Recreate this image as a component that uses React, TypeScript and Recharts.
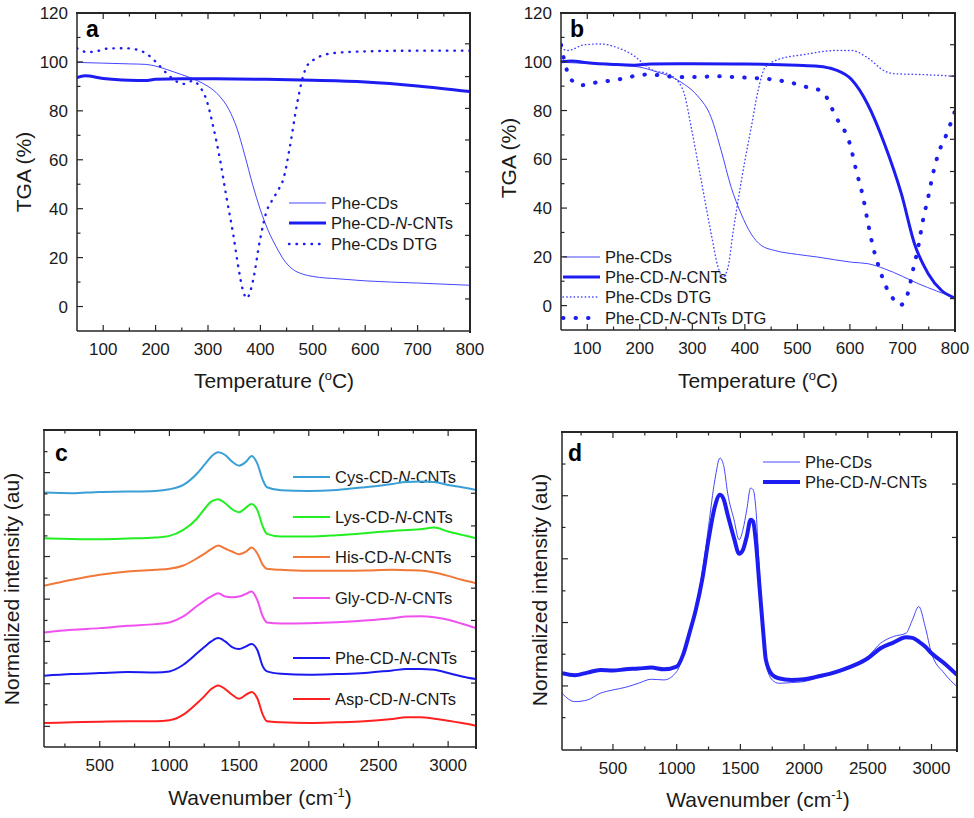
import React from 'react';
import { LineChart, Line, XAxis, YAxis } from 'recharts';

const FONT = '"Liberation Sans", Arial, sans-serif';
const INK = '#1a1a1a';
const AXIS = '#262626';
const BLUE = '#1d1df2';
const BLUE_THIN = '#4646ff';

// ---------- panel a : TGA ----------
const aPheT = [50, 100, 150, 180, 200, 220, 250, 280, 300, 320, 340, 355, 370, 385, 400, 415, 430, 445, 460, 480, 500, 550, 600, 700, 800];
const aPheV = [99.8, 99.5, 99.2, 99, 98.3, 97, 94.8, 92.3, 90, 86.5, 80.5, 73, 62, 50, 39.5, 31, 24.5, 19, 15.5, 13.3, 12.3, 11.3, 10.5, 9.6, 8.7];
const aCntT = [50, 65, 100, 150, 180, 200, 250, 300, 400, 500, 600, 700, 800];
const aCntV = [93.6, 94.3, 93.2, 92.5, 92.4, 92.9, 93.1, 93.1, 92.9, 92.5, 91.8, 90.2, 87.9];
const aDtgT = [50, 70, 90, 110, 140, 165, 185, 205, 225, 245, 255, 270, 285, 297, 310, 323, 335, 348, 358, 367, 374, 386, 399, 412, 424, 435, 443, 456, 469, 478, 488, 501, 513, 540, 600, 700, 800];
const aDtgV = [105.6, 104, 104.5, 105.5, 105.6, 105, 103, 99, 94.5, 91.5, 91, 92.2, 89.7, 84.5, 73.5, 60, 45, 29.7, 16, 6.4, 3.4, 10.7, 27, 39, 44, 48, 51.5, 65, 81.7, 91.3, 98, 100.8, 102.2, 103.6, 104.3, 104.6, 104.6];

// ---------- panel b : TGA ----------
const bPheT = [50, 100, 150, 200, 230, 260, 285, 310, 336, 355, 374, 393, 412, 431, 457, 500, 539, 603, 634, 666, 700, 730, 765, 800];
const bPheV = [99.8, 99.3, 98.7, 97.8, 96, 93.8, 90.7, 86, 77.1, 63.5, 48.5, 37.6, 29.4, 24.7, 22.6, 21, 19.9, 17.8, 17.2, 15.1, 12, 9, 6, 3.1];
const bCntT = [50, 70, 100, 150, 190, 220, 300, 400, 500, 539, 571, 603, 634, 666, 698, 723, 749, 774, 800];
const bCntV = [100, 100.3, 99.6, 98.9, 98.6, 99.1, 99.2, 99.1, 98.6, 98.2, 96.8, 92.7, 82.5, 66.2, 45.8, 25.3, 13.1, 6.3, 3.1];
const bDtgT = [50, 63, 95, 127, 158, 190, 209, 228, 247, 266, 285, 298, 317, 336, 349, 358, 368, 377, 387, 400, 412, 425, 438, 463, 514, 571, 603, 634, 666, 685, 730, 800];
const bDtgV = [105.7, 104.6, 107, 107.3, 105.7, 102.3, 98.9, 96.2, 95.5, 93.4, 86.6, 73, 51.2, 29.4, 15.8, 11.7, 15.8, 29.4, 43, 59.4, 73, 88, 97.5, 100.9, 103, 104.6, 104.6, 101.6, 96.2, 95.1, 94.8, 94.1];
const bCdtgT = [50, 58, 68, 89, 114, 146, 171, 197, 222, 247, 285, 317, 349, 381, 412, 450, 488, 520, 546, 574, 600, 612, 625, 634, 644, 657, 669, 682, 695, 710, 720, 730, 739, 749, 758, 768, 784, 800];
const bCdtgV = [107, 99, 93, 90.4, 91.4, 92.3, 93.2, 94.5, 94.8, 94.1, 93.7, 93.8, 94.1, 93.7, 93.4, 92.8, 91.4, 89.5, 88, 77.1, 66.2, 55.4, 44.5, 34.3, 24.1, 14.6, 7.6, 2.9, 0.1, 4.9, 14.6, 24.1, 35, 44.5, 54, 62.1, 70.3, 79.8];

// ---------- panel c : Raman, stacked ----------
const cX = [100, 300, 500, 700, 900, 1000, 1100, 1200, 1250, 1300, 1350, 1400, 1450, 1500, 1550, 1590, 1630, 1670, 1700, 1800, 2000, 2200, 2400, 2600, 2700, 2800, 2900, 3000, 3100, 3200];
const cCys = [7.64, 7.62, 7.66, 7.67, 7.69, 7.74, 7.87, 8.22, 8.47, 8.72, 8.85, 8.77, 8.57, 8.45, 8.57, 8.74, 8.52, 8.02, 7.8, 7.71, 7.69, 7.72, 7.8, 7.9, 7.96, 7.97, 7.96, 7.87, 7.8, 7.72];
const cLys = [6.27, 6.25, 6.24, 6.26, 6.29, 6.34, 6.52, 6.87, 7.14, 7.37, 7.44, 7.32, 7.14, 7.05, 7.19, 7.3, 7.12, 6.62, 6.4, 6.32, 6.32, 6.36, 6.42, 6.49, 6.52, 6.54, 6.59, 6.47, 6.37, 6.27];
const cHis = [4.84, 5.02, 5.17, 5.27, 5.32, 5.35, 5.45, 5.67, 5.8, 5.94, 6.05, 5.96, 5.87, 5.79, 5.87, 5.99, 5.82, 5.47, 5.35, 5.32, 5.29, 5.29, 5.3, 5.32, 5.31, 5.3, 5.24, 5.14, 5.02, 4.92];
const cGly = [3.44, 3.52, 3.57, 3.64, 3.69, 3.74, 3.92, 4.24, 4.39, 4.52, 4.62, 4.52, 4.5, 4.52, 4.6, 4.67, 4.42, 3.92, 3.74, 3.71, 3.72, 3.75, 3.8, 3.87, 3.92, 3.93, 3.9, 3.82, 3.7, 3.57];
const cPhe = [2.14, 2.19, 2.22, 2.25, 2.24, 2.27, 2.47, 2.82, 3.0, 3.17, 3.27, 3.17, 3.0, 2.94, 3.02, 3.09, 2.92, 2.42, 2.27, 2.2, 2.17, 2.19, 2.22, 2.3, 2.34, 2.34, 2.32, 2.22, 2.12, 2.04];
const cAsp = [0.72, 0.74, 0.76, 0.77, 0.77, 0.8, 0.97, 1.32, 1.52, 1.74, 1.85, 1.74, 1.57, 1.45, 1.57, 1.65, 1.47, 0.97, 0.77, 0.74, 0.72, 0.74, 0.77, 0.84, 0.89, 0.89, 0.85, 0.79, 0.72, 0.64];

// ---------- panel d : Raman, overlaid ----------
const dX = [100, 200, 300, 400, 500, 600, 700, 800, 900, 1000, 1050, 1100, 1150, 1200, 1250, 1300, 1340, 1370, 1400, 1450, 1490, 1520, 1550, 1580, 1600, 1620, 1650, 1680, 1700, 1750, 1800, 1900, 2000, 2100, 2200, 2300, 2400, 2500, 2600, 2700, 2800, 2850, 2900, 2950, 3000, 3100, 3200];
const dPhe = [1.7, 1.45, 1.5, 1.7, 1.8, 1.88, 2.0, 2.12, 2.1, 2.35, 2.8, 3.5, 4.3, 5.3, 6.7, 8.1, 8.75, 8.5, 7.7, 6.9, 6.3, 6.6, 7.2, 7.85, 7.8, 7.3, 5.3, 3.5, 2.6, 2.1, 2.0, 2.02, 2.05, 2.15, 2.25, 2.38, 2.55, 2.8, 3.2, 3.4, 3.5, 3.9, 4.3, 3.7, 2.9, 2.3, 1.9];
const dCnt = [2.3, 2.24, 2.32, 2.4, 2.38, 2.42, 2.44, 2.47, 2.42, 2.5, 2.85, 3.5, 4.2, 5.1, 6.3, 7.3, 7.65, 7.5, 7.05, 6.35, 5.88, 6.0, 6.4, 6.9, 6.85, 6.3, 4.9, 3.5, 2.7, 2.25, 2.15, 2.1, 2.12, 2.2, 2.28, 2.4, 2.55, 2.75, 3.05, 3.22, 3.38, 3.36, 3.25, 3.1, 2.9, 2.6, 2.25];

// ---------- ticks ----------
const tgaXMajor = [100, 200, 300, 400, 500, 600, 700, 800];
const tgaXTicks = [100, 150, 200, 250, 300, 350, 400, 450, 500, 550, 600, 650, 700, 750, 800];
const tgaYMajor = [0, 20, 40, 60, 80, 100, 120];
const tgaYTicks = [0, 10, 20, 30, 40, 50, 60, 70, 80, 90, 100, 110, 120];
const aRightTicks = [3.1, 16.1, 29.1, 42.1, 55.1, 68.1, 81, 94, 107.4];
const bRightTicks = [2.9, 15.8, 29.1, 42.1, 55, 68.2, 81.2, 94.1, 107];
const ramXMajor = [500, 1000, 1500, 2000, 2500, 3000];
const ramXTicks = [250, 500, 750, 1000, 1250, 1500, 1750, 2000, 2250, 2500, 2750, 3000];
const cYMajor = [0.62, 1.9, 3.17, 4.44, 5.72, 6.97, 8.24];
const cYTicks = [0.62, 1.27, 1.9, 2.52, 3.17, 3.8, 4.44, 5.07, 5.72, 6.34, 6.97, 7.6, 8.24, 8.87];
const cRightTicks = [0.97, 1.92, 2.87, 3.8, 4.77, 5.72, 6.64, 7.62, 8.57];
const dYMajor = [1.92, 3.82, 5.73, 7.62];
const dYTicks = [0.97, 1.92, 2.87, 3.82, 4.77, 5.73, 6.67, 7.62, 8.57];
const dRightTicks = [1.58, 3.18, 4.77, 6.37, 7.97];

const zip = (xs: number[], ys: number[]) => xs.map((x, i) => ({ x, y: ys[i] }));

const isMajor = (majors: number[], v: number) => majors.some((m) => Math.abs(m - v) < 1e-6);

// origin-style ticks: drawn inward from the axis line, major ones longer
const makeTick = (side: 'bottom' | 'left', majors: number[], labels: boolean) => (props: any) => {
  const { x, y, payload } = props;
  const v = payload.value;
  const major = isMajor(majors, v);
  const len = major ? 6 : 3.5;
  const l = side === 'bottom'
    ? { x1: x, y1: y, x2: x, y2: y - len }
    : { x1: x, y1: y, x2: x + len, y2: y };
  const showLabel = labels && major;
  return (
    <g>
      <line {...l} stroke={AXIS} strokeWidth={1.2} />
      {showLabel && side === 'bottom' && (
        <text x={x} y={y + 24} textAnchor="middle" fontSize={17} fill={INK} fontFamily={FONT}>{v}</text>
      )}
      {showLabel && side === 'left' && (
        <text x={x - 9} y={y + 6} textAnchor="end" fontSize={17} fill={INK} fontFamily={FONT}>{v}</text>
      )}
    </g>
  );
};

type Box = { l: number; r: number; t: number; b: number };

// closed box: css border for the top and right edges, svg for their inward ticks
const FrameOverlay = ({ width, height, plot, xDomain, yDomain, xTicks, xMajors, rTicks }: any) => {
  const px = (v: number) => plot.l + ((v - xDomain[0]) / (xDomain[1] - xDomain[0])) * (plot.r - plot.l);
  const py = (v: number) => plot.b - ((v - yDomain[0]) / (yDomain[1] - yDomain[0])) * (plot.b - plot.t);
  return (
    <>
      <div style={{
        position: 'absolute', left: plot.l - 1, top: plot.t - 1,
        width: plot.r - plot.l, height: plot.b - plot.t + 1,
        borderTop: `2px solid ${AXIS}`, borderRight: `2px solid ${AXIS}`,
        pointerEvents: 'none',
      }} />
      <svg width={width} height={height}
        style={{ position: 'absolute', left: 0, top: 0, pointerEvents: 'none' }}>
        {xTicks.map((v: number) => (
          <line key={'t' + v} x1={px(v)} x2={px(v)} y1={plot.t} y2={plot.t + (isMajor(xMajors, v) ? 6 : 3.5)} stroke={AXIS} strokeWidth={1.2} />
        ))}
        {rTicks.map((v: number) => (
          <line key={'r' + v} x1={plot.r} x2={plot.r - 5} y1={py(v)} y2={py(v)} stroke={AXIS} strokeWidth={1.2} />
        ))}
      </svg>
    </>
  );
};

type Series = { data: { x: number; y: number }[]; color: string; width: number; dash?: string };

type PanelProps = {
  left: number; top: number; width: number; height: number;
  plot: Box;
  xDomain: [number, number]; yDomain: [number, number];
  xTicks: number[]; xMajors: number[];
  yTicks: number[]; yMajors: number[]; yLabels: boolean;
  rTicks: number[];
  series: Series[];
  children?: React.ReactNode;
};

const Panel = (p: PanelProps) => {
  const axisLine = { stroke: AXIS, strokeWidth: 1.5 };
  return (
    <div style={{ position: 'absolute', left: p.left, top: p.top, width: p.width, height: p.height }}>
      <LineChart
        width={p.width}
        height={p.height}
        margin={{ top: p.plot.t, right: p.width - p.plot.r, left: 0, bottom: 0 }}
      >
        <XAxis type="number" dataKey="x" domain={p.xDomain} allowDataOverflow
          ticks={p.xTicks} interval={0} height={p.height - p.plot.b} tickSize={0} tickMargin={0}
          tickLine={false} axisLine={axisLine} tick={makeTick('bottom', p.xMajors, true)} />
        <YAxis type="number" domain={p.yDomain} allowDataOverflow
          ticks={p.yTicks} interval={0} width={p.plot.l} tickSize={0} tickMargin={0}
          tickLine={false} axisLine={axisLine} tick={makeTick('left', p.yMajors, p.yLabels)} />
        {p.series.map((s, i) => (
          <Line key={i} data={s.data} dataKey="y" type="monotone"
            stroke={s.color} strokeWidth={s.width} strokeDasharray={s.dash}
            strokeLinecap={s.dash ? 'round' : 'butt'} dot={false} activeDot={false}
            isAnimationActive={false} />
        ))}
        {p.children}
      </LineChart>
      <FrameOverlay width={p.width} height={p.height} plot={p.plot} xDomain={p.xDomain} yDomain={p.yDomain}
        xTicks={p.xTicks} xMajors={p.xMajors} rTicks={p.rTicks} />
    </div>
  );
};

const LegendRow = ({ x1, x2, y, color, width, dash, children }: any) => (
  <g>
    <line x1={x1} x2={x2} y1={y} y2={y} stroke={color} strokeWidth={width}
      strokeDasharray={dash} strokeLinecap={dash ? 'round' : 'butt'} />
    <text x={x2 + 5} y={y + 6} fontSize={16.5} fill={INK} fontFamily={FONT}>{children}</text>
  </g>
);

const It = ({ children }: any) => <tspan fontStyle="italic">{children}</tspan>;

const Letter = ({ x, y, children }: any) => (
  <text x={x} y={y} fontSize={23} fontWeight="bold" fill="#000" fontFamily={FONT}>{children}</text>
);

const YTitle = ({ x, y, children }: any) => (
  <text x={x} y={y} transform={`rotate(-90 ${x} ${y})`} textAnchor="middle" fontSize={21} fill={INK} fontFamily={FONT}>{children}</text>
);

const TempTitle = ({ x, y }: any) => (
  <text x={x} y={y} textAnchor="middle" fontSize={21} fill={INK} fontFamily={FONT}>
    Temperature (<tspan fontSize={13} dy={-8}>o</tspan><tspan dy={8}>C)</tspan>
  </text>
);

const WaveTitle = ({ x, y }: any) => (
  <text x={x} y={y} textAnchor="middle" fontSize={21} fill={INK} fontFamily={FONT}>
    Wavenumber (cm<tspan fontSize={13} dy={-8}>-1</tspan><tspan dy={8}>)</tspan>
  </text>
);

const DOT_A = '0.5 7';
const DOT_THIN = '0.5 3.2';
const DOT_THICK = '0.5 12';

export default function App() {
  return (
    <div style={{ position: 'absolute', left: 0, top: 0, width: 974, height: 818, background: '#fff', fontFamily: FONT }}>
      {/* a */}
      <Panel left={0} top={0} width={490} height={400} plot={{ l: 77, r: 470, t: 13, b: 331 }}
        xDomain={[50, 800]} yDomain={[-10, 120]} xTicks={tgaXTicks} xMajors={tgaXMajor}
        yTicks={tgaYTicks} yMajors={tgaYMajor} yLabels rTicks={aRightTicks}
        series={[
          { data: zip(aPheT, aPheV), color: BLUE_THIN, width: 1 },
          { data: zip(aCntT, aCntV), color: BLUE, width: 3 },
          { data: zip(aDtgT, aDtgV), color: BLUE, width: 2.4, dash: DOT_A },
        ]}>
        <Letter x={86} y={37}>a</Letter>
        <YTitle x={31} y={172}>TGA (%)</YTitle>
        <TempTitle x={274} y={388} />
        <LegendRow x1={289} x2={326} y={203} color={BLUE_THIN} width={1}>Phe-CDs</LegendRow>
        <LegendRow x1={289} x2={326} y={223} color={BLUE} width={3}>Phe-CD-<It>N</It>-CNTs</LegendRow>
        <LegendRow x1={289} x2={326} y={244} color={BLUE} width={2.4} dash={DOT_A}>Phe-CDs DTG</LegendRow>
      </Panel>

      {/* b */}
      <Panel left={485} top={0} width={489} height={400} plot={{ l: 76, r: 470, t: 13, b: 330 }}
        xDomain={[50, 800]} yDomain={[-10, 120]} xTicks={tgaXTicks} xMajors={tgaXMajor}
        yTicks={tgaYTicks} yMajors={tgaYMajor} yLabels rTicks={bRightTicks}
        series={[
          { data: zip(bPheT, bPheV), color: BLUE_THIN, width: 1 },
          { data: zip(bCntT, bCntV), color: BLUE, width: 3 },
          { data: zip(bDtgT, bDtgV), color: BLUE_THIN, width: 1.4, dash: DOT_THIN },
          { data: zip(bCdtgT, bCdtgV), color: BLUE, width: 4, dash: DOT_THICK },
        ]}>
        <Letter x={85} y={37}>b</Letter>
        <YTitle x={31} y={158}>TGA (%)</YTitle>
        <TempTitle x={273} y={388} />
        <LegendRow x1={78} x2={115} y={257} color={BLUE_THIN} width={1}>Phe-CDs</LegendRow>
        <LegendRow x1={78} x2={115} y={277} color={BLUE} width={3}>Phe-CD-<It>N</It>-CNTs</LegendRow>
        <LegendRow x1={78} x2={115} y={297} color={BLUE_THIN} width={1.4} dash={DOT_THIN}>Phe-CDs DTG</LegendRow>
        <LegendRow x1={78} x2={115} y={318} color={BLUE} width={4} dash={DOT_THICK}>Phe-CD-<It>N</It>-CNTs DTG</LegendRow>
      </Panel>

      {/* c */}
      <Panel left={0} top={400} width={490} height={418} plot={{ l: 44, r: 476, t: 30, b: 347 }}
        xDomain={[100, 3200]} yDomain={[0, 9.52]} xTicks={ramXTicks} xMajors={ramXMajor}
        yTicks={cYTicks} yMajors={cYMajor} yLabels={false} rTicks={cRightTicks}
        series={[
          { data: zip(cX, cCys), color: '#3a9fd6', width: 2 },
          { data: zip(cX, cLys), color: '#22ee22', width: 2 },
          { data: zip(cX, cHis), color: '#f07838', width: 2 },
          { data: zip(cX, cGly), color: '#f050f0', width: 2 },
          { data: zip(cX, cPhe), color: '#1a1af0', width: 2 },
          { data: zip(cX, cAsp), color: '#ff2020', width: 2 },
        ]}>
        <Letter x={55} y={61}>c</Letter>
        <YTitle x={19} y={189}>Normalized intensity (au)</YTitle>
        <WaveTitle x={260} y={405} />
        <LegendRow x1={293} x2={330} y={77} color="#3a9fd6" width={2}>Cys-CD-<It>N</It>-CNTs</LegendRow>
        <LegendRow x1={293} x2={330} y={117} color="#22ee22" width={2}>Lys-CD-<It>N</It>-CNTs</LegendRow>
        <LegendRow x1={293} x2={330} y={157} color="#f07838" width={2}>His-CD-<It>N</It>-CNTs</LegendRow>
        <LegendRow x1={293} x2={330} y={198} color="#f050f0" width={2}>Gly-CD-<It>N</It>-CNTs</LegendRow>
        <LegendRow x1={293} x2={330} y={258} color="#1a1af0" width={2}>Phe-CD-<It>N</It>-CNTs</LegendRow>
        <LegendRow x1={293} x2={330} y={299} color="#ff2020" width={2}>Asp-CD-<It>N</It>-CNTs</LegendRow>
      </Panel>

      {/* d */}
      <Panel left={485} top={400} width={489} height={418} plot={{ l: 77, r: 472, t: 32, b: 350 }}
        xDomain={[100, 3200]} yDomain={[0, 9.53]} xTicks={ramXTicks} xMajors={ramXMajor}
        yTicks={dYTicks} yMajors={dYMajor} yLabels={false} rTicks={dRightTicks}
        series={[
          { data: zip(dX, dPhe), color: BLUE_THIN, width: 1 },
          { data: zip(dX, dCnt), color: BLUE, width: 4 },
        ]}>
        <Letter x={83} y={61}>d</Letter>
        <YTitle x={62} y={190}>Normalized intensity (au)</YTitle>
        <WaveTitle x={273} y={407} />
        <LegendRow x1={278} x2={315} y={62} color={BLUE_THIN} width={1}>Phe-CDs</LegendRow>
        <LegendRow x1={278} x2={315} y={82} color={BLUE} width={4}>Phe-CD-<It>N</It>-CNTs</LegendRow>
      </Panel>
    </div>
  );
}
